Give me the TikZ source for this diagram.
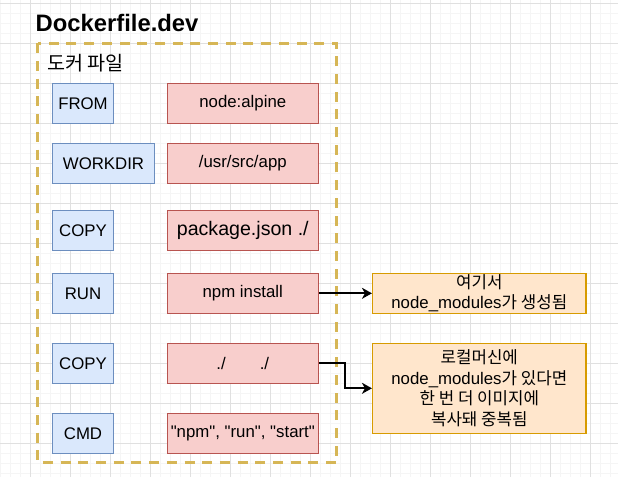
\documentclass[tikz,border=0pt]{standalone}
\usepackage{fontspec}
\setmainfont{Liberation Sans}
\newfontfamily\lib{Liberation Sans}
\newfontfamily\kr{Noto Sans CJK KR}
\usetikzlibrary{arrows.meta}
\definecolor{bluefill}{HTML}{DAE8FC}
\definecolor{bluedraw}{HTML}{6C8EBF}
\definecolor{redfill}{HTML}{F8CECC}
\definecolor{reddraw}{HTML}{B85450}
\definecolor{orfill}{HTML}{FFE6CC}
\definecolor{ordraw}{HTML}{D79B00}
\definecolor{ydash}{HTML}{D6B656}
\definecolor{gridmajor}{HTML}{E0E0E0}
\definecolor{gridminor}{HTML}{F5F5F5}
\tikzset{
  minorgrid/.style={gridminor, line width=0.8pt},
  majorgrid/.style={gridmajor, line width=1pt},
  kwbox/.style={draw=bluedraw, fill=bluefill, line width=1.4pt, minimum height=40pt, inner sep=0pt,
     font=\fontsize{16.8}{20}\selectfont},
  valbox/.style={draw=reddraw, fill=redfill, line width=1.4pt, minimum width=151pt, minimum height=40pt, inner sep=0pt,
     font=\fontsize{16.8}{20}\selectfont},
  notebox/.style={draw=ordraw, fill=orfill, line width=1.4pt, minimum width=213.3pt, inner sep=0pt, align=center,
     font=\fontsize{16.8}{20.5}\selectfont},
  container/.style={draw=ydash, line width=2.8pt, dash pattern=on 10pt off 7.7pt},
  arr/.style={draw=black, line width=2pt, -{Stealth[length=10pt,width=11pt,inset=3pt]}},
}
\begin{document}
\begin{tikzpicture}[x=1pt,y=-1pt]
\useasboundingbox (0,0) rectangle (618,477);
\fill[white] (0,0) rectangle (618,477);
% grid
\foreach \x in {0,10,...,610} \draw[minorgrid] (\x,0) -- (\x,477);
\foreach \y in {3,13,...,473} \draw[minorgrid] (0,\y) -- (618,\y);
\foreach \x in {30,70,...,590} \draw[majorgrid] (\x,0) -- (\x,477);
\foreach \y in {3,43,...,443} \draw[majorgrid] (0,\y) -- (618,\y);
% title
\node[anchor=west, inner sep=0pt, font=\bfseries\fontsize{23.8}{28}\selectfont] (title) at (35.5,22.5) {Dockerfile.dev};
% container
\draw[container] (37.5,43.3) rectangle (336.7,462.7);
\node[anchor=west, inner sep=0pt, font=\kr\fontsize{19.6}{24}\selectfont] (lbl) at (47,63) {도커 파일};
% keyword boxes
\node[kwbox, minimum width=60.7pt] (k1) at (83,103.3) {FROM};
\node[kwbox, minimum width=101.7pt] (k2) at (103.5,163.3) {WORKDIR};
\node[kwbox, minimum width=60.7pt] (k3) at (83,230.3) {COPY};
\node[kwbox, minimum width=60.7pt] (k4) at (83,293.3) {RUN};
\node[kwbox, minimum width=60.7pt] (k5) at (83,363.3) {COPY};
\node[kwbox, minimum width=60.7pt] (k6) at (83,433.3) {CMD};
% value boxes
\node[valbox] (v1) at (242.8,103.3) {node:alpine};
\node[valbox] (v2) at (242.8,163.3) {/usr/src/app};
\node[valbox, font=\fontsize{19.6}{24}\selectfont] (v3) at (242.8,230.3) {package.json ./};
\node[valbox] (v4) at (242.8,293.3) {npm install};
\node[valbox] (v5) at (242.8,363.3) {./\hspace{34pt}./};
\node[valbox, font=\lib\fontsize{16.8}{20}\selectfont] (v6) at (242.8,433.3) {"npm", "run", "start"};
% notes
\node[notebox, minimum height=40pt] (n1) at (479.3,293.3) {{\kr 여기서}\\node\_modules{\kr 가 생성됨}};
\node[notebox, minimum height=90pt] (n2) at (479.3,388.3) {{\kr 로컬머신에}\\node\_modules{\kr 가 있다면}\\{\kr 한 번 더 이미지에}\\{\kr 복사돼 중복됨}};
% connectors
\draw[arr] (v4.east) -- (n1.west);
\draw[arr] (v5.east) -- ++(26,0) |- (n2.west);
\end{tikzpicture}
\end{document}
